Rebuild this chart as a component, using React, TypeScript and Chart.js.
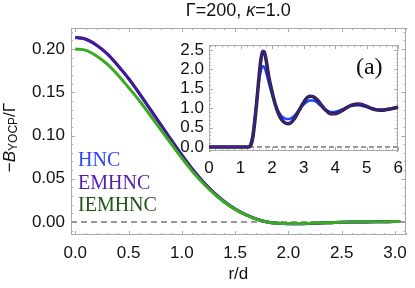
import React, { useEffect, useRef } from "react";
import { Chart, registerables } from "chart.js";

Chart.register(...registerables);

// ---------- main panel data: -B_YOCP/Γ vs r/d ----------
const rMain = [0, 0.1, 0.2, 0.3, 0.4, 0.5, 0.6, 0.7, 0.8, 0.9, 1.0, 1.1, 1.2, 1.3, 1.4, 1.5, 1.6, 1.7, 1.8, 1.9, 2.0, 2.1, 2.2, 2.3, 2.4, 2.5, 2.6, 2.7, 2.8, 2.9, 3.0, 3.05];
const bHNC = [0.2133, 0.2113, 0.2043, 0.1943, 0.1808, 0.1658, 0.1488, 0.1308, 0.1128, 0.0949, 0.0774, 0.0609, 0.0464, 0.0339, 0.0234, 0.0149, 0.0084, 0.0034, 0.0, -0.0015, -0.002, -0.002, -0.0017, -0.0012, -0.0008, -0.0004, -0.0001, 0.0001, 0.0003, 0.0004, 0.0005, 0.0005];
const bEMHNC = [0.2135, 0.2115, 0.2045, 0.1945, 0.181, 0.166, 0.149, 0.131, 0.113, 0.095, 0.0775, 0.061, 0.0465, 0.034, 0.0235, 0.015, 0.0085, 0.0035, 0.0, -0.0015, -0.002, -0.002, -0.0017, -0.0012, -0.0008, -0.0004, -0.0001, 0.0001, 0.0003, 0.0004, 0.0005, 0.0005];
const bIEMHNC = [0.2, 0.1985, 0.192, 0.1825, 0.17, 0.1555, 0.1405, 0.124, 0.107, 0.0905, 0.074, 0.0585, 0.0448, 0.0328, 0.0228, 0.0146, 0.0083, 0.0034, 0.0001, -0.0014, -0.0018, -0.0018, -0.0015, -0.0011, -0.0007, -0.0003, 0.0, 0.0002, 0.0003, 0.0004, 0.0005, 0.0005];
const mainXTicks = [0, 0.5, 1.0, 1.5, 2.0, 2.5, 3.0];
const mainYTicks = [0, 0.05, 0.1, 0.15, 0.2];

// ---------- inset data: g(r) ----------
const rInset = [0, 1.0, 1.2, 1.25, 1.3, 1.35, 1.4, 1.45, 1.5, 1.55, 1.6, 1.65, 1.7, 1.75, 1.8, 1.85, 1.9,
  2.0, 2.1, 2.2, 2.3, 2.4, 2.5, 2.6, 2.7, 2.8, 2.9, 3.0, 3.1, 3.2, 3.3, 3.4, 3.5, 3.6, 3.7, 3.8, 3.9,
  4.0, 4.1, 4.2, 4.3, 4.4, 4.5, 4.6, 4.7, 4.8, 4.9, 5.0, 5.1, 5.2, 5.3, 5.4, 5.5, 5.6, 5.7, 5.8, 5.9, 6.0];
const gHNC = [0, 0, 0, 0.01, 0.05, 0.18, 0.42, 0.76, 1.12, 1.48, 1.78, 1.98, 2.08, 2.06, 1.95, 1.8, 1.64,
  1.35, 1.1, 0.92, 0.8, 0.74, 0.72, 0.74, 0.8, 0.9, 1.0, 1.09, 1.16, 1.2, 1.2, 1.16, 1.09, 1.02, 0.96, 0.92, 0.905,
  0.91, 0.93, 0.96, 0.995, 1.03, 1.055, 1.07, 1.075, 1.07, 1.05, 1.03, 1.005, 0.985, 0.97, 0.965, 0.967, 0.975, 0.985, 0.997, 1.008, 1.015];
const gEMHNC = [0, 0, 0, 0, 0.02, 0.1, 0.3, 0.65, 1.05, 1.5, 1.95, 2.3, 2.48, 2.47, 2.3, 2.05, 1.8,
  1.42, 1.1, 0.86, 0.71, 0.63, 0.6, 0.63, 0.72, 0.86, 1.01, 1.15, 1.26, 1.32, 1.31, 1.25, 1.15, 1.04, 0.95, 0.88, 0.85,
  0.855, 0.88, 0.93, 0.98, 1.03, 1.07, 1.1, 1.115, 1.11, 1.085, 1.05, 1.01, 0.98, 0.955, 0.945, 0.945, 0.955, 0.97, 0.99, 1.01, 1.025];
const gIEMHNC = [0, 0, 0, 0, 0.02, 0.1, 0.3, 0.64, 1.04, 1.49, 1.93, 2.28, 2.46, 2.45, 2.29, 2.04, 1.79,
  1.42, 1.1, 0.86, 0.71, 0.63, 0.6, 0.63, 0.72, 0.86, 1.01, 1.15, 1.26, 1.31, 1.3, 1.24, 1.15, 1.04, 0.95, 0.88, 0.855,
  0.86, 0.885, 0.93, 0.98, 1.03, 1.07, 1.095, 1.11, 1.105, 1.08, 1.05, 1.01, 0.98, 0.957, 0.947, 0.947, 0.957, 0.972, 0.99, 1.01, 1.025];
const insetXTicks = [0, 1, 2, 3, 4, 5, 6];
const insetYTicks = [0, 0.5, 1.0, 1.5, 2.0, 2.5];

const legendLabels = ["HNC", "EMHNC", "IEMHNC"];
const legendColors = ["#2a44ff", "#5520b0", "#1e5414"];

const SANS = "'Liberation Sans', Arial, sans-serif";
const SERIF = "'Liberation Serif', 'Times New Roman', serif";
const FRAME = "#aaaaaa";
const C_BLUE = "#1e46ff";
const C_PURPLE = "#461796";
const C_GREEN = "#3aab1e";
const C_DKGREEN = "#1c2e12";
const TICK_SIZE = 17;

const pts = (xs: number[], ys: number[]) => xs.map((x, i) => ({ x, y: ys[i] }));

function minorList(min: number, max: number, step: number) {
  const out: number[] = [];
  const start = Math.ceil(min / step - 1e-9);
  for (let k = start; k * step <= max + 1e-9; k++) out.push(+(k * step).toFixed(6));
  return out;
}

const framePlugin = {
  id: "frameTicks",
  beforeDatasetsDraw(chart: any, _a: any, opts: any) {
    const { ctx, chartArea, scales } = chart;
    const { left, right, top, bottom } = chartArea;
    const x = scales.x, y = scales.y;
    ctx.save();
    ctx.strokeStyle = opts.color || FRAME;
    ctx.lineWidth = 1;
    ctx.strokeRect(Math.round(left) + 0.5, Math.round(top) + 0.5, Math.round(right - left) - 1, Math.round(bottom - top) - 1);
    ctx.beginPath();
    const xs = minorList(x.min, x.max, opts.xMinor);
    xs.forEach((v) => {
      const major = opts.xMajor.some((m: number) => Math.abs(m - v) < 1e-6);
      const len = major ? 4 : 2;
      const px = Math.round(x.getPixelForValue(v)) + 0.5;
      ctx.moveTo(px, bottom); ctx.lineTo(px, bottom - len);
      ctx.moveTo(px, top); ctx.lineTo(px, top + len);
    });
    const ys = minorList(y.min, y.max, opts.yMinor);
    ys.forEach((v) => {
      const major = opts.yMajor.some((m: number) => Math.abs(m - v) < 1e-6);
      const len = major ? 4 : 2;
      const py = Math.round(y.getPixelForValue(v)) + 0.5;
      ctx.moveTo(left, py); ctx.lineTo(left + len, py);
      ctx.moveTo(right, py); ctx.lineTo(right - len, py);
    });
    ctx.stroke();
    ctx.restore();
  },
};

const mainTextPlugin = {
  id: "mainText",
  afterDraw(chart: any) {
    const { ctx, chartArea } = chart;
    ctx.save();
    // title
    ctx.fillStyle = "#111";
    ctx.textBaseline = "middle";
    const cx = (chartArea.left + chartArea.right) / 2;
    const parts = [
      { t: "Γ=200, ", f: `18px ${SANS}` },
      { t: "κ", f: `italic 18px ${SANS}` },
      { t: "=1.0", f: `18px ${SANS}` },
    ];
    let w = 0;
    parts.forEach((p) => { ctx.font = p.f; w += ctx.measureText(p.t).width; });
    let xx = cx - w / 2;
    ctx.textAlign = "left";
    parts.forEach((p) => { ctx.font = p.f; ctx.fillText(p.t, xx, 11); xx += ctx.measureText(p.t).width; });

    // x title
    ctx.font = `17px ${SANS}`;
    ctx.textAlign = "center";
    ctx.fillText("r/d", cx, 274);

    // y title (rotated)
    ctx.save();
    ctx.translate(10, (chartArea.top + chartArea.bottom) / 2 + 6);
    ctx.rotate(-Math.PI / 2);
    const yparts = [
      { t: "−", f: `17px ${SANS}`, dy: 0 },
      { t: "B", f: `italic 17px ${SANS}`, dy: 0 },
      { t: "YOCP", f: `12px ${SANS}`, dy: 4 },
      { t: "/Γ", f: `17px ${SANS}`, dy: 0 },
    ];
    let yw = 0;
    yparts.forEach((p) => { ctx.font = p.f; yw += ctx.measureText(p.t).width; });
    let yx = -yw / 2;
    ctx.textAlign = "left";
    yparts.forEach((p) => { ctx.font = p.f; ctx.fillText(p.t, yx, p.dy); yx += ctx.measureText(p.t).width; });
    ctx.restore();

    // legend
    ctx.font = `20px ${SERIF}`;
    ctx.textAlign = "left";
    ctx.textBaseline = "alphabetic";
    legendLabels.forEach((l, i) => {
      ctx.fillStyle = legendColors[i];
      ctx.fillText(l, 78, 166 + i * 22.5);
    });
    ctx.restore();
  },
};

const insetTextPlugin = {
  id: "insetText",
  afterDraw(chart: any) {
    const { ctx, chartArea } = chart;
    ctx.save();
    ctx.fillStyle = "#111";
    ctx.font = `24px ${SERIF}`;
    ctx.textAlign = "center";
    ctx.textBaseline = "middle";
    ctx.fillText("(a)", chartArea.right - 29, chartArea.top + 23);
    ctx.restore();
  },
};

function MainChart() {
  const ref = useRef<HTMLCanvasElement>(null);
  useEffect(() => {
    const xMin = -0.04, xMax = 3.1;
    const chart = new Chart(ref.current!, {
      type: "line",
      data: {
        datasets: [
          { data: pts([xMin, xMax], [0, 0]), borderColor: "#9a9a9a", borderWidth: 2, borderDash: [6, 4], order: 4 },
          { data: pts(rMain, bHNC), borderColor: C_BLUE, borderWidth: 3, order: 3 },
          { data: pts(rMain, bEMHNC), borderColor: C_PURPLE, borderWidth: 3, order: 2 },
          { data: pts(rMain, bIEMHNC), borderColor: C_GREEN, borderWidth: 3, order: 1 },
        ] as any,
      },
      options: {
        animation: false,
        responsive: false,
        devicePixelRatio: 1,
        layout: { padding: { left: 0, top: 28, right: 6, bottom: 0 } },
        elements: { point: { radius: 0 }, line: { cubicInterpolationMode: "monotone", fill: false } },
        plugins: {
          legend: { display: false },
          tooltip: { enabled: false },
          frameTicks: { xMajor: mainXTicks, yMajor: mainYTicks, xMinor: 0.1, yMinor: 0.01, color: FRAME },
        } as any,
        scales: {
          x: {
            type: "linear", min: xMin, max: xMax,
            grid: { display: false, drawTicks: false }, border: { display: false },
            afterBuildTicks: (s: any) => { s.ticks = mainXTicks.map((v) => ({ value: v })); },
            afterFit: (s: any) => { s.height = 53; },
            ticks: { padding: 8, color: "#111", font: { family: SANS, size: TICK_SIZE }, maxRotation: 0, autoSkip: false, callback: (v: any) => Number(v).toFixed(1) },
          },
          y: {
            type: "linear", min: -0.015, max: 0.2243,
            grid: { display: false, drawTicks: false }, border: { display: false },
            afterBuildTicks: (s: any) => { s.ticks = mainYTicks.map((v) => ({ value: v })); },
            afterFit: (s: any) => { s.width = 71; },
            ticks: { padding: 6, color: "#111", font: { family: SANS, size: TICK_SIZE }, autoSkip: false, callback: (v: any) => Number(v).toFixed(2) },
          },
        },
      } as any,
      plugins: [framePlugin, mainTextPlugin],
    });
    return () => chart.destroy();
  }, []);
  return <canvas ref={ref} width={415} height={288} style={{ position: "absolute", left: 0, top: 0 }} />;
}

function InsetChart() {
  const ref = useRef<HTMLCanvasElement>(null);
  useEffect(() => {
    const xMin = 0, xMax = 6;
    const chart = new Chart(ref.current!, {
      type: "line",
      data: {
        datasets: [
          { data: pts([xMin, xMax], [0, 0]), borderColor: "#9a9a9a", borderWidth: 2, borderDash: [5, 3], order: 4 },
          { data: pts(rInset, gHNC), borderColor: C_BLUE, borderWidth: 2.5, order: 3 },
          { data: pts(rInset, gIEMHNC), borderColor: C_DKGREEN, borderWidth: 3.5, order: 2 },
          { data: pts(rInset, gEMHNC), borderColor: C_PURPLE, borderWidth: 2, order: 1 },
        ] as any,
      },
      options: {
        animation: false,
        responsive: false,
        devicePixelRatio: 1,
        layout: { padding: { left: 0, top: 7, right: 10, bottom: 0 } },
        elements: { point: { radius: 0 }, line: { cubicInterpolationMode: "monotone", fill: false } },
        plugins: {
          legend: { display: false },
          tooltip: { enabled: false },
          frameTicks: { xMajor: insetXTicks, yMajor: insetYTicks, xMinor: 0.2, yMinor: 0.1, color: FRAME },
        } as any,
        scales: {
          x: {
            type: "linear", min: xMin, max: xMax,
            grid: { display: false, drawTicks: false }, border: { display: false },
            afterBuildTicks: (s: any) => { s.ticks = insetXTicks.map((v) => ({ value: v })); },
            afterFit: (s: any) => { s.height = 29; },
            ticks: { padding: 7, color: "#111", font: { family: SANS, size: TICK_SIZE }, maxRotation: 0, autoSkip: false, callback: (v: any) => String(Math.round(Number(v))) },
          },
          y: {
            type: "linear", min: -0.1, max: 2.62,
            grid: { display: false, drawTicks: false }, border: { display: false },
            afterBuildTicks: (s: any) => { s.ticks = insetYTicks.map((v) => ({ value: v })); },
            afterFit: (s: any) => { s.width = 39; },
            ticks: { padding: 5, color: "#111", font: { family: SANS, size: TICK_SIZE }, autoSkip: false, callback: (v: any) => Number(v).toFixed(1) },
          },
        },
      } as any,
      plugins: [framePlugin, insetTextPlugin],
    });
    return () => chart.destroy();
  }, []);
  return <canvas ref={ref} width={240} height={150} style={{ position: "absolute", left: 170, top: 30 }} />;
}

export default function App() {
  return (
    <div style={{ position: "fixed", left: 0, top: 0, width: 415, height: 288, background: "#fff" }}>
      <MainChart />
      <InsetChart />
    </div>
  );
}
